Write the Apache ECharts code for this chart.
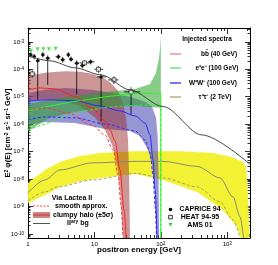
<!DOCTYPE html>
<html><head><meta charset="utf-8">
<script src="https://cdn.jsdelivr.net/npm/echarts@6/dist/echarts.min.js"></script>
<style>html,body{margin:0;padding:0;background:#fff}#c{width:278px;height:265px}</style>
</head><body><div id="c"></div>
<script>
// ---------------- axis ranges & tick labels ----------------
const E_MIN = 1, E_MAX = 2200;          // GeV
const F_MIN = 7.1e-11, F_MAX = 3.2e-3;  // E^2 phi
const xMajorE = [1, 10, 100, 1000];
const xTickLabels = ['1', '10', '10{s|2}', '10{s|3}'];
const yMajorF = [1e-10, 1e-9, 1e-8, 1e-7, 1e-6, 1e-5, 1e-4, 1e-3];
const yTickLabels = ['10{s|-10}', '10{s|-9}', '10{s|-8}', '10{s|-7}', '10{s|-6}', '10{s|-5}', '10{s|-4}', '10{s|-3}'];

// ---------------- b bbar (40 GeV) ----------------
const bbUpE = [1, 1.80, 3.61, 6.07, 9.2, 14.4, 18.4, 22.7, 27.0, 29.9, 32.1, 33.2, 34.4];
const bbUpF = [5.75e-5, 7.41e-5, 8.41e-5, 8.06e-5, 6.81e-5, 4.48e-5, 2.94e-5, 1.64e-5, 5.97e-6, 1.70e-6, 2.67e-7, 1.42e-8, 7e-11];
const bbLoE = [1, 3.03, 6.07, 10.2, 14.4, 18.4, 21.9, 24.3, 27.0];
const bbLoF = [7.69e-6, 7.69e-6, 4.64e-6, 1.70e-6, 6.19e-7, 1.76e-7, 3.28e-8, 4.02e-9, 7e-11];
const bbMeanE = [1, 1.52, 2.55, 5.10, 9.2, 14.4, 17.2, 20.4, 24.3, 27.9, 29.9];
const bbMeanF = [1.78e-5, 2.10e-5, 1.93e-5, 1.03e-5, 3.93e-6, 1.32e-6, 6.19e-7, 2.46e-7, 2.15e-8, 7.5e-10, 7e-11];
const bbSmE = [1, 1.80, 4.0, 9.2, 14.4, 19.1, 22.7, 25.1, 27.0];
const bbSmF = [3.32e-6, 3.93e-6, 2.58e-6, 9.41e-7, 4.07e-7, 1.16e-7, 1.42e-8, 1.14e-9, 7e-11];

// ---------------- W+W- (100 GeV) ----------------
const wwUpE = [1, 1.80, 3.61, 9.2, 18.4, 34.4, 57.8, 73.7, 84.7, 89.2, 92.3, 94.0];
const wwUpF = [1.38e-5, 1.78e-5, 2.10e-5, 1.78e-5, 1.38e-5, 9.89e-6, 6.50e-6, 4.27e-6, 1.70e-6, 4.07e-7, 2.15e-8, 7e-11];
const wwLoE = [1, 1.80, 5.10, 14.4, 34.4, 48.6, 64.1, 73.7, 81.8, 86.1];
const wwLoF = [9.41e-7, 1.21e-6, 1.11e-6, 6.73e-7, 5.69e-7, 3.74e-7, 1.16e-7, 3.28e-8, 4.02e-9, 7e-11];
const wwMeanE = [1, 2.14, 5.10, 12.1, 24.3, 40.9, 57.8, 68.8, 76.3, 81.8, 87.7];
const wwMeanF = [7.07e-6, 7.69e-6, 7.07e-6, 4.64e-6, 3.05e-6, 2.00e-6, 1.11e-6, 4.07e-7, 4.99e-8, 4.02e-9, 7e-11];
const wwSmE = [1, 1.80, 5.10, 14.4, 40.9, 57.8, 68.8, 76.3, 81.8, 86.1];
const wwSmF = [1.43e-6, 1.84e-6, 1.70e-6, 1.02e-6, 5.69e-7, 2.67e-7, 8.98e-8, 1.42e-8, 1.14e-9, 7e-11];

// ---------------- e+e- (100 GeV) ----------------
const eeUpE = [1, 2.14, 5.10, 14.4, 40.9, 68.8, 84.7, 89.2, 94.0, 97.3, 100];
const eeUpF = [5.49e-6, 7.69e-6, 1.07e-5, 1.50e-5, 1.93e-5, 2.94e-5, 7.41e-5, 1.45e-4, 2.61e-4, 6.04e-4, 1.52e-3];
const eeLoE = [1, 2.14, 5.10, 14.4, 40.9, 100];
const eeLoF = [5.5e-7, 1.70e-6, 2.80e-6, 4.27e-6, 4.64e-6, 3.93e-6];
const eeMeanE = [1, 1.80, 5.10, 14.4, 40.9, 100, 100];
const eeMeanF = [3.05e-6, 4.27e-6, 6.78e-6, 9.89e-6, 1.33e-5, 1.35e-5, 7e-11];
const eeSmE = [1, 1.80, 5.10, 14.4, 40.9, 100, 100];
const eeSmF = [6.19e-7, 1.02e-6, 2.58e-6, 4.10e-6, 4.84e-6, 5.05e-6, 7e-11];

// ---------------- tau+tau- (2 TeV) ----------------
const ttUpE = [1, 1.80, 3.03, 6.07, 12.1, 40.9, 195, 611, 1100, 1730, 1920, 2057, 2170];
const ttUpF = [7.24e-9, 2.15e-8, 4.22e-8, 6.98e-8, 8.98e-8, 1.02e-7, 1.02e-7, 8.98e-8, 6.69e-8, 4.22e-8, 2.55e-8, 2.64e-9, 7e-11];
const ttLoE = [1, 1.80, 3.03, 6.07, 12.1, 40.9, 108, 351, 865, 1405, 1615];
const ttLoF = [1.35e-9, 2.64e-9, 5.18e-9, 8.56e-9, 1.10e-8, 1.54e-8, 9.31e-9, 3.40e-9, 7.5e-10, 1.80e-10, 7e-11];
const ttMeanE = [1, 1.80, 3.03, 9.2, 40.9, 108, 351, 780, 1222, 1560, 1760];
const ttMeanF = [3.13e-9, 9.31e-9, 2.15e-8, 3.88e-8, 4.40e-8, 4.40e-8, 2.89e-8, 1.10e-8, 2.23e-9, 4.17e-10, 7e-11];
const ttSmE = [1, 1.80, 2.83, 9.2, 40.9, 108, 351, 780, 1222, 1560];
const ttSmF = [1.60e-9, 3.40e-9, 5.18e-9, 9.31e-9, 1.60e-8, 1.10e-8, 5.18e-9, 1.47e-9, 3.24e-10, 7e-11];

// ---------------- secondary background ----------------
const bgE = [1, 2.14, 5.10, 12.6, 34.4, 108, 413, 2204];
const bgF = [3.09e-4, 2.03e-4, 1.13e-4, 6.26e-5, 1.78e-5, 4.38e-6, 4.07e-7, 3.42e-8];

// ---------------- data ----------------
const capE   = [1.10, 1.24, 1.40, 1.67, 1.98, 2.86, 3.33, 4.05, 4.44, 5.41, 6.58, 8.8, 12.6];
const capF   = [3.36e-4, 2.91e-4, 2.03e-4, 3.36e-4, 2.55e-4, 2.84e-4, 2.21e-4, 3.36e-4, 2.34e-4, 1.67e-4, 1.37e-4, 1.87e-4, 5.29e-5];
const capFlo = [2.7e-4, 2.3e-4, 7.7e-6, 2.7e-4, 2.7e-5, 2.3e-4, 1.75e-4, 2.7e-4, 1.9e-4, 1.2e-5, 1.1e-4, 1.5e-4, 1.3e-6];
const capFhi = [4.1e-4, 3.6e-4, 2.6e-4, 4.2e-4, 3.2e-4, 3.5e-4, 2.8e-4, 4.2e-4, 2.9e-4, 2.1e-4, 1.7e-4, 2.3e-4, 6.8e-5];
const capElo = [1.05, 1.17, 1.32, 1.58, 1.85, 2.6, 3.1, 3.8, 4.2, 5.0, 6.1, 8.0, 11.0];
const capEhi = [1.17, 1.32, 1.50, 1.78, 2.15, 3.1, 3.6, 4.3, 4.8, 5.9, 7.2, 10.0, 15.0];

const heatE   = [1.16, 7.1, 11.5, 19.7, 35.6];
const heatF   = [6.8e-5, 1.71e-4, 1.0e-4, 4.1e-5, 1.5e-5];
const heatFlo = [5.0e-5, 1.35e-4, 7.5e-5, 2.9e-5, 2.2e-6];
const heatFhi = [9.0e-5, 2.1e-4, 1.3e-4, 5.5e-5, 2.2e-5];
const heatElo = [1.05, 6.0, 10.0, 16.0, 28.0];
const heatEhi = [1.30, 8.5, 13.5, 23.0, 49.0];

const amsE = [1.11, 1.39, 1.70, 2.07, 2.61];
const amsF = [4.5e-4, 5.4e-4, 5.4e-4, 5.4e-4, 5.6e-4];

// ---------------- helpers ----------------
const LX0 = Math.log10(E_MIN), LX1 = Math.log10(E_MAX);
const LY0 = Math.log10(F_MIN), LY1 = Math.log10(F_MAX);
const lx = e => Math.log10(e);
const ly = f => Math.max(LY0, Math.log10(f));
const pts = (E, F) => E.map((e, i) => [lx(e), ly(F[i])]);
const FONT = 'Liberation Sans';

function band(upE, upF, loE, loF, fill) {
  const poly = pts(upE, upF).concat(pts(loE, loF).reverse());
  return {
    type: 'custom', xAxisIndex: 0, yAxisIndex: 0, silent: true, animation: false,
    data: poly,
    renderItem: (params, api) => {
      if (params.dataIndex !== 0) return null;
      return { type: 'polygon', shape: { points: poly.map(p => api.coord(p)) }, style: { fill: fill } };
    }
  };
}
function curve(E, F, color, dash, smooth) {
  return {
    type: 'line', xAxisIndex: 0, yAxisIndex: 0, data: pts(E, F), symbol: 'none', silent: true,
    animation: false, smooth: smooth ? 0.3 : false, smoothMonotone: 'x',
    lineStyle: { color: color, width: 1, type: dash ? [3, 2] : 'solid' }
  };
}
function errBars(E, F, Elo, Ehi, Flo, Fhi, color) {
  return {
    type: 'custom', xAxisIndex: 0, yAxisIndex: 0, silent: true, animation: false,
    dimensions: ['x', 'y', 'xl', 'xh', 'yl', 'yh'], encode: { x: 0, y: 1 },
    data: E.map((e, i) => [lx(e), ly(F[i]), lx(Elo[i]), lx(Ehi[i]), ly(Flo[i]), ly(Fhi[i])]),
    renderItem: (params, api) => {
      const x = api.value(0), y = api.value(1);
      const b = api.coord([x, api.value(4)]), t = api.coord([x, api.value(5)]);
      const l = api.coord([api.value(2), y]), r = api.coord([api.value(3), y]);
      const st = { stroke: color, lineWidth: 0.8 };
      return { type: 'group', children: [
        { type: 'line', shape: { x1: b[0], y1: b[1], x2: t[0], y2: t[1] }, style: st },
        { type: 'line', shape: { x1: l[0], y1: l[1], x2: r[0], y2: r[1] }, style: st }
      ] };
    }
  };
}

const xMinor = [], yMinor = [];
for (let d = 0; d <= 3; d++) for (let k = 2; k <= 9; k++) { const v = d + Math.log10(k); if (v <= LX1) xMinor.push(v); }
for (let d = -11; d <= -3; d++) for (let k = 2; k <= 9; k++) { const v = d + Math.log10(k); if (v >= LY0 && v <= LY1) yMinor.push(v); }
const xMaj = xMajorE.map(lx), yMaj = yMajorF.map(f => Math.log10(f));

const tickFont = { fontFamily: FONT, fontSize: 6, color: '#000',
  rich: { s: { fontFamily: FONT, fontSize: 4.5, verticalAlign: 'top', color: '#000' } } };

function xAx(pos, major, showLabel) {
  return {
    type: 'value', position: pos, min: LX0, max: LX1, splitLine: { show: false },
    axisLine: { show: major, onZero: false, lineStyle: { color: '#000', width: 1 } },
    axisTick: { show: true, inside: true, length: major ? 6 : 3, customValues: major ? xMaj : xMinor,
      lineStyle: { color: '#000', width: 0.8 } },
    axisLabel: showLabel ? Object.assign({ show: true, margin: 3, customValues: xMaj,
      formatter: v => xTickLabels[Math.round(v)] }, tickFont) : { show: false },
    name: showLabel ? 'positron energy [GeV]' : '', nameLocation: 'middle', nameGap: 8, nameMoveOverlap: false,
    nameTextStyle: { fontFamily: FONT, fontSize: 8, fontWeight: 'bold', color: '#000' }
  };
}
function yAx(pos, major, showLabel) {
  return {
    type: 'value', position: pos, min: LY0, max: LY1, splitLine: { show: false },
    axisLine: { show: major, onZero: false, lineStyle: { color: '#000', width: 1 } },
    axisTick: { show: true, inside: true, length: major ? 5 : 2.5, customValues: major ? yMaj : yMinor,
      lineStyle: { color: '#000', width: 0.8 } },
    axisLabel: showLabel ? Object.assign({ show: true, margin: 4, customValues: yMaj,
      formatter: v => yTickLabels[Math.round(v) + 10] }, tickFont) : { show: false },
    name: showLabel ? 'E{s|2} φ(E) [cm{s|-2} s{s|-1} sr{s|-1} GeV]' : '', nameLocation: 'middle', nameGap: 16,
    nameMoveOverlap: false,
    nameTextStyle: { fontFamily: FONT, fontSize: 7.5, fontWeight: 'bold', color: '#000',
      rich: { s: { fontFamily: FONT, fontSize: 5, fontWeight: 'bold', verticalAlign: 'top', color: '#000' } } }
  };
}

const series = [
  band(ttUpE, ttUpF, ttLoE, ttLoF, 'rgba(242,240,40,0.95)'),
  band(wwUpE, wwUpF, wwLoE, wwLoF, 'rgba(80,80,180,0.6)'),
  band(bbUpE, bbUpF, bbLoE, bbLoF, 'rgba(155,45,45,0.5)'),
  band(eeUpE, eeUpF, eeLoE, eeLoF, 'rgba(40,160,40,0.55)'),
  curve(ttSmE, ttSmF, '#a3a35a', true, true),
  curve(ttMeanE, ttMeanF, '#8a8a72', false, true),
  curve(wwSmE, wwSmF, '#2a2aff', true, true),
  curve(wwMeanE, wwMeanF, '#2a2aff', false, true),
  curve(eeSmE, eeSmF, '#33ee33', true, false),
  curve(eeMeanE, eeMeanF, '#33ee33', false, false),
  curve(bbSmE, bbSmF, '#ff3030', true, true),
  curve(bbMeanE, bbMeanF, '#ff2020', false, true),
  curve(bgE, bgF, '#444444', false, true),
  errBars(capE, capF, capElo, capEhi, capFlo, capFhi, '#000'),
  errBars(heatE, heatF, heatElo, heatEhi, heatFlo, heatFhi, '#000'),
  { type: 'scatter', xAxisIndex: 0, yAxisIndex: 0, data: pts(capE, capF), symbol: 'circle', symbolSize: 3.5,
    itemStyle: { color: '#000' }, silent: true, animation: false },
  { type: 'scatter', xAxisIndex: 0, yAxisIndex: 0, data: pts(heatE, heatF), symbol: 'rect', symbolSize: 4,
    itemStyle: { color: '#fff', borderColor: '#000', borderWidth: 0.8 }, silent: true, animation: false },
  { type: 'scatter', xAxisIndex: 0, yAxisIndex: 0, data: pts(amsE, amsF), symbol: 'triangle', symbolRotate: 180,
    symbolSize: 4, itemStyle: { color: '#22dd22' }, silent: true, animation: false }
];

function txt(x, y, text, size, align, bold) {
  return { type: 'text', x: x, y: y, silent: true, z: 100,
    style: { text: text, fill: '#000', fontFamily: FONT, fontSize: size, fontWeight: bold ? 'bold' : 'normal',
      align: align || 'center', verticalAlign: 'middle', textAlign: align || 'center', textVerticalAlign: 'middle',
      rich: { s: { fontFamily: FONT, fontSize: size * 0.7, fontWeight: bold ? 'bold' : 'normal', verticalAlign: 'top', fill: '#000' } } } };
}
function seg(x1, y1, x2, y2, color, w, dash) {
  return { type: 'line', silent: true, z: 100, shape: { x1, y1, x2, y2 },
    style: { stroke: color, lineWidth: w, lineDash: dash || null } };
}

const graphic = [
  // injected spectra legend
  txt(207, 39, 'Injected spectra', 6.5, 'center', true),
  seg(170, 54, 181, 54, '#f4a3a3', 1.8), txt(219, 54, 'bb\u0304 (40 GeV)', 6.5, 'center', true),
  seg(170, 68, 181, 68, '#80f080', 1.8), txt(217, 68, 'e⁺e⁻ (100 GeV)', 6.5, 'center', true),
  seg(170, 83, 181, 83, '#6868f0', 1.8), txt(213, 83, 'W⁺W⁻ (100 GeV)', 6.5, 'center', true),
  seg(170, 97, 181, 97, '#c4c08e', 1.8), txt(215, 97, 'τ⁺τ⁻ (2 TeV)', 6.5, 'center', true),
  // Via Lactea legend
  txt(72, 198, 'Via Lactea II', 7, 'center', true),
  seg(33, 206, 50, 206, '#ff4040', 1, [2, 1.5]), txt(55, 206, 'smooth approx.', 7, 'left', true),
  { type: 'rect', silent: true, z: 100, shape: { x: 33, y: 212, width: 17, height: 6 }, style: { fill: 'rgba(185,95,95,0.75)' } },
  seg(33, 215, 50, 215, '#d03030', 1), txt(53, 215, 'clumpy halo (±5σ)', 7, 'left', true),
  seg(33, 223.5, 50, 223.5, '#555', 1), txt(67, 223, 'II{s|ary} bg', 7, 'left', true),
  // data legend
  { type: 'circle', silent: true, z: 100, shape: { cx: 170.5, cy: 209.5, r: 1.8 }, style: { fill: '#000' } },
  txt(200, 209.5, 'CAPRICE 94', 7, 'center', true),
  { type: 'rect', silent: true, z: 100, shape: { x: 168.7, y: 215.3, width: 3.6, height: 3.6 }, style: { fill: '#fff', stroke: '#000', lineWidth: 0.8 } },
  txt(200, 217.2, 'HEAT 94-95', 7, 'center', true),
  { type: 'polygon', silent: true, z: 100, shape: { points: [[168.5, 223], [172.5, 223], [170.5, 226.5]] }, style: { fill: '#22dd22' } },
  txt(200, 225, 'AMS 01', 7, 'center', true)
];

const chart = echarts.init(document.getElementById('c'), null, { renderer: 'canvas' });
chart.setOption({
  backgroundColor: '#fff',
  animation: false,
  grid: { left: 28, top: 28, right: 28, bottom: 27, containLabel: false, outerBoundsMode: 'none' },
  xAxis: [xAx('bottom', true, true), xAx('bottom', false, false), xAx('top', true, false), xAx('top', false, false)],
  yAxis: [yAx('left', true, true), yAx('left', false, false), yAx('right', true, false), yAx('right', false, false)],
  series: series,
  graphic: graphic
});
</script></body></html>
